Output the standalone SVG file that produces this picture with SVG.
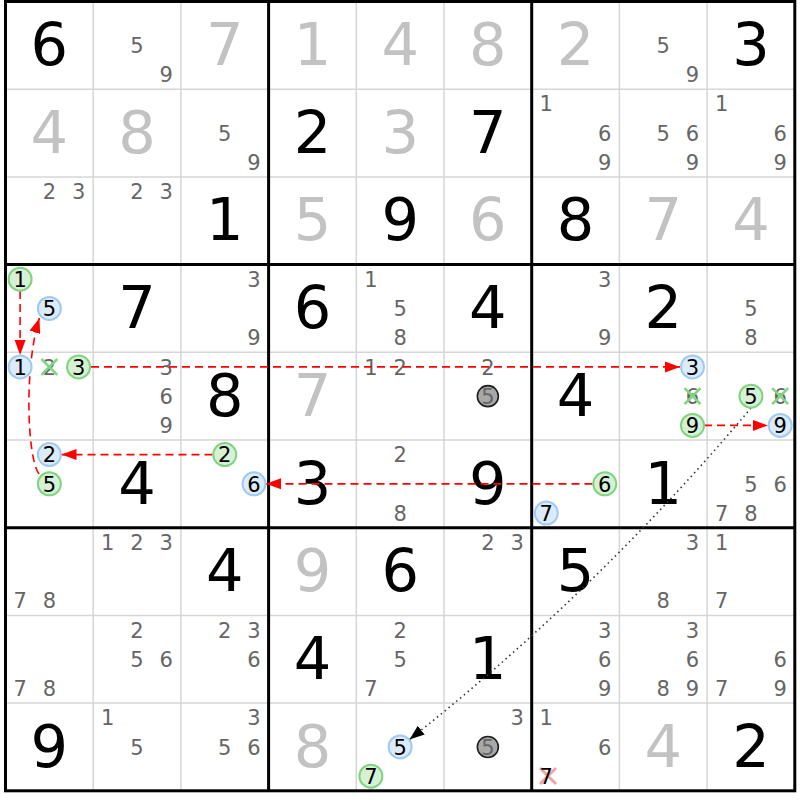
<svg xmlns="http://www.w3.org/2000/svg" width="800" height="800" viewBox="0 0 800 800">
<style>
.bg{fill:#ffffff}
.thin{stroke:#d6d6d6;stroke-width:1.5;fill:none}
.thick{stroke:#000;stroke-width:3;fill:none}
text{font-family:"DejaVu Sans","Verdana",sans-serif;text-anchor:middle}
.g{font-size:59px;fill:#000}
.s{font-size:59px;fill:#c2c2c2}
.c{font-size:21px;fill:#666}
.k{font-size:21px;fill:#000}
.cg{fill:#d6f2d6;stroke:#80d480;stroke-width:2}
.cb{fill:#dcebfa;stroke:#9fcaf2;stroke-width:2}
.cx{fill:#a8a8a8;stroke:#1e1e1e;stroke-width:1.6}
.xg{stroke:#7fd67f;stroke-width:2.5}
.xr{stroke:#f3a3a8;stroke-width:3}
.red{stroke:#ff0000;stroke-width:1.6;fill:none;stroke-dasharray:8 5}
.dot{stroke:#333;stroke-width:1.6;fill:none;stroke-dasharray:1.5 3.5}
</style>
<defs>
<marker id="ar" markerUnits="userSpaceOnUse" markerWidth="16" markerHeight="12" refX="15" refY="6" orient="auto"><path d="M0,0.5 L15,6 L0,11.5 z" fill="#ff0000"/></marker>
<marker id="ak" markerUnits="userSpaceOnUse" markerWidth="16" markerHeight="12" refX="15" refY="6" orient="auto"><path d="M0,0.5 L15,6 L0,11.5 z" fill="#000"/></marker>
</defs>
<rect class="bg" x="0" y="0" width="800" height="800"/>
<g id="grid">
<path class="thin" d="M93.2,1.5V790.8M180.9,1.5V790.8M356.3,1.5V790.8M444,1.5V790.8M619.4,1.5V790.8M707.1,1.5V790.8M5.5,89.2H794.8M5.5,176.9H794.8M5.5,352.3H794.8M5.5,440H794.8M5.5,615.4H794.8M5.5,703.1H794.8"/>
<path class="thick" d="M268.6,1.5V790.8M531.7,1.5V790.8M5.5,264.6H794.8M5.5,527.7H794.8"/>
<rect class="thick" x="5.5" y="1.5" width="789.3" height="789.3"/>
</g>
<g id="digits">
<text class="g" x="49.35" y="65">6</text><text class="s" x="224.75" y="65">7</text><text class="s" x="312.45" y="65">1</text><text class="s" x="400.15" y="65">4</text><text class="s" x="487.85" y="65">8</text><text class="s" x="575.55" y="65">2</text><text class="g" x="750.95" y="65">3</text>
<text class="s" x="49.35" y="152.7">4</text><text class="s" x="137.05" y="152.7">8</text><text class="g" x="312.45" y="152.7">2</text><text class="s" x="400.15" y="152.7">3</text><text class="g" x="487.85" y="152.7">7</text>
<text class="g" x="224.75" y="240.4">1</text><text class="s" x="312.45" y="240.4">5</text><text class="g" x="400.15" y="240.4">9</text><text class="s" x="487.85" y="240.4">6</text><text class="g" x="575.55" y="240.4">8</text><text class="s" x="663.25" y="240.4">7</text><text class="s" x="750.95" y="240.4">4</text>
<text class="g" x="137.05" y="328.1">7</text><text class="g" x="312.45" y="328.1">6</text><text class="g" x="487.85" y="328.1">4</text><text class="g" x="663.25" y="328.1">2</text>
<text class="g" x="224.75" y="415.8">8</text><text class="s" x="312.45" y="415.8">7</text><text class="g" x="575.55" y="415.8">4</text>
<text class="g" x="137.05" y="503.5">4</text><text class="g" x="312.45" y="503.5">3</text><text class="g" x="487.85" y="503.5">9</text><text class="g" x="663.25" y="503.5">1</text>
<text class="g" x="224.75" y="591.2">4</text><text class="s" x="312.45" y="591.2">9</text><text class="g" x="400.15" y="591.2">6</text><text class="g" x="575.55" y="591.2">5</text>
<text class="g" x="312.45" y="678.9">4</text><text class="g" x="487.85" y="678.9">1</text>
<text class="g" x="49.35" y="766.6">9</text><text class="s" x="312.45" y="766.6">8</text><text class="s" x="663.25" y="766.6">4</text><text class="g" x="750.95" y="766.6">2</text>
</g>
<g id="candidates">
<text class="c" x="137.05" y="53">5</text><text class="c" x="166.3" y="82.2">9</text>
<text class="c" x="663.25" y="53">5</text><text class="c" x="692.5" y="82.2">9</text>
<text class="c" x="224.75" y="140.7">5</text><text class="c" x="254" y="169.9">9</text>
<text class="c" x="546.3" y="111.4">1</text><text class="c" x="604.8" y="140.7">6</text><text class="c" x="604.8" y="169.9">9</text>
<text class="c" x="663.25" y="140.7">5</text><text class="c" x="692.5" y="140.7">6</text><text class="c" x="692.5" y="169.9">9</text>
<text class="c" x="721.7" y="111.4">1</text><text class="c" x="780.2" y="140.7">6</text><text class="c" x="780.2" y="169.9">9</text>
<text class="c" x="49.35" y="199.1">2</text><text class="c" x="78.6" y="199.1">3</text>
<text class="c" x="137.05" y="199.1">2</text><text class="c" x="166.3" y="199.1">3</text>
<text class="c" x="254" y="286.8">3</text><text class="c" x="254" y="345.3">9</text>
<text class="c" x="370.9" y="286.8">1</text><text class="c" x="400.15" y="316.1">5</text><text class="c" x="400.15" y="345.3">8</text>
<text class="c" x="604.8" y="286.8">3</text><text class="c" x="604.8" y="345.3">9</text>
<text class="c" x="750.95" y="316.1">5</text><text class="c" x="750.95" y="345.3">8</text>
<text class="c" x="166.3" y="374.5">3</text><text class="c" x="166.3" y="403.8">6</text><text class="c" x="166.3" y="433">9</text>
<text class="c" x="370.9" y="374.5">1</text><text class="c" x="400.15" y="374.5">2</text>
<text class="c" x="487.85" y="374.5">2</text>
<text class="c" x="400.15" y="462.2">2</text><text class="c" x="400.15" y="520.7">8</text>
<text class="c" x="750.95" y="491.5">5</text><text class="c" x="780.2" y="491.5">6</text><text class="c" x="721.7" y="520.7">7</text><text class="c" x="750.95" y="520.7">8</text>
<text class="c" x="20.1" y="608.4">7</text><text class="c" x="49.35" y="608.4">8</text>
<text class="c" x="107.8" y="549.9">1</text><text class="c" x="137.05" y="549.9">2</text><text class="c" x="166.3" y="549.9">3</text>
<text class="c" x="487.85" y="549.9">2</text><text class="c" x="517.1" y="549.9">3</text>
<text class="c" x="692.5" y="549.9">3</text><text class="c" x="663.25" y="608.4">8</text>
<text class="c" x="721.7" y="549.9">1</text><text class="c" x="721.7" y="608.4">7</text>
<text class="c" x="20.1" y="696.1">7</text><text class="c" x="49.35" y="696.1">8</text>
<text class="c" x="137.05" y="637.6">2</text><text class="c" x="137.05" y="666.9">5</text><text class="c" x="166.3" y="666.9">6</text>
<text class="c" x="224.75" y="637.6">2</text><text class="c" x="254" y="637.6">3</text><text class="c" x="254" y="666.9">6</text>
<text class="c" x="400.15" y="637.6">2</text><text class="c" x="400.15" y="666.9">5</text><text class="c" x="370.9" y="696.1">7</text>
<text class="c" x="604.8" y="637.6">3</text><text class="c" x="604.8" y="666.9">6</text><text class="c" x="604.8" y="696.1">9</text>
<text class="c" x="692.5" y="637.6">3</text><text class="c" x="692.5" y="666.9">6</text><text class="c" x="663.25" y="696.1">8</text><text class="c" x="692.5" y="696.1">9</text>
<text class="c" x="780.2" y="666.9">6</text><text class="c" x="721.7" y="696.1">7</text><text class="c" x="780.2" y="696.1">9</text>
<text class="c" x="107.8" y="725.3">1</text><text class="c" x="137.05" y="754.6">5</text>
<text class="c" x="254" y="725.3">3</text><text class="c" x="224.75" y="754.6">5</text><text class="c" x="254" y="754.6">6</text>
<text class="c" x="517.1" y="725.3">3</text>
<text class="c" x="546.3" y="725.3">1</text><text class="c" x="604.8" y="754.6">6</text>
</g>
<g id="eliminated">
<text class="c" x="49.35" y="374.5">2</text><path class="xg" d="M41.4,359 L57.3,374.8 M41.4,374.8 L57.3,359"/>
<text class="c" x="692.5" y="403.8">6</text><path class="xg" d="M684.5,388.2 L700.5,404.1 M684.5,404.1 L700.5,388.2"/>
<text class="c" x="780.2" y="403.8">6</text><path class="xg" d="M772.2,388.2 L788.2,404.1 M772.2,404.1 L788.2,388.2"/>
<path class="xr" d="M540,768 L556,784 M540,784 L556,768"/><text class="k" x="546.3" y="783.8">7</text>
</g>
<g id="links">
<path class="red" d="M20.1,291 L20.1,355" marker-end="url(#ar)"/>
<path class="red" d="M39,474 C27,458 24,366 39.5,318" marker-end="url(#ar)"/>
<path class="red" d="M91,366.9 L680,366.9" marker-end="url(#ar)"/>
<path class="red" d="M212.5,454.6 L61.5,454.6" marker-end="url(#ar)"/>
<path class="red" d="M592.5,483.85 L266,483.85" marker-end="url(#ar)"/>
<path class="red" d="M704,425.4 L768,425.4" marker-end="url(#ar)"/>
<path class="dot" d="M751,408 Q598,590 409.5,739.5" marker-end="url(#ak)"/>
</g>
<g id="marks">
<g id="m-r3c0-1"><circle class="cg" cx="20.1" cy="279.2" r="11.5"/><text class="k" x="20.1" y="286.8">1</text></g>
<g id="m-r3c0-5"><circle class="cb" cx="49.35" cy="308.45" r="11.5"/><text class="k" x="49.35" y="316.1">5</text></g>
<g id="m-r4c0-1"><circle class="cb" cx="20.1" cy="366.9" r="11.5"/><text class="k" x="20.1" y="374.5">1</text></g>
<g id="m-r4c0-3"><circle class="cg" cx="78.6" cy="366.9" r="11.5"/><text class="k" x="78.6" y="374.5">3</text></g>
<g id="m-r4c5-5"><circle class="cx" cx="487.85" cy="396.15" r="10.5"/><text class="c" x="487.85" y="403.8">5</text></g>
<g id="m-r4c7-3"><circle class="cb" cx="692.5" cy="366.9" r="11.5"/><text class="k" x="692.5" y="374.5">3</text></g>
<g id="m-r4c7-9"><circle class="cg" cx="692.5" cy="425.4" r="11.5"/><text class="k" x="692.5" y="433">9</text></g>
<g id="m-r4c8-5"><circle class="cg" cx="750.95" cy="396.15" r="11.5"/><text class="k" x="750.95" y="403.8">5</text></g>
<g id="m-r4c8-9"><circle class="cb" cx="780.2" cy="425.4" r="11.5"/><text class="k" x="780.2" y="433">9</text></g>
<g id="m-r5c0-2"><circle class="cb" cx="49.35" cy="454.6" r="11.5"/><text class="k" x="49.35" y="462.2">2</text></g>
<g id="m-r5c0-5"><circle class="cg" cx="49.35" cy="483.85" r="11.5"/><text class="k" x="49.35" y="491.5">5</text></g>
<g id="m-r5c2-2"><circle class="cg" cx="224.75" cy="454.6" r="11.5"/><text class="k" x="224.75" y="462.2">2</text></g>
<g id="m-r5c2-6"><circle class="cb" cx="254" cy="483.85" r="11.5"/><text class="k" x="254" y="491.5">6</text></g>
<g id="m-r5c6-6"><circle class="cg" cx="604.8" cy="483.85" r="11.5"/><text class="k" x="604.8" y="491.5">6</text></g>
<g id="m-r5c6-7"><circle class="cb" cx="546.3" cy="513.1" r="11.5"/><text class="k" x="546.3" y="520.7">7</text></g>
<g id="m-r8c4-5"><circle class="cb" cx="400.15" cy="746.95" r="11.5"/><text class="k" x="400.15" y="754.6">5</text></g>
<g id="m-r8c4-7"><circle class="cg" cx="370.9" cy="776.2" r="11.5"/><text class="k" x="370.9" y="783.8">7</text></g>
<g id="m-r8c5-5"><circle class="cx" cx="487.85" cy="746.95" r="10.5"/><text class="c" x="487.85" y="754.6">5</text></g>
</g>
</svg>
